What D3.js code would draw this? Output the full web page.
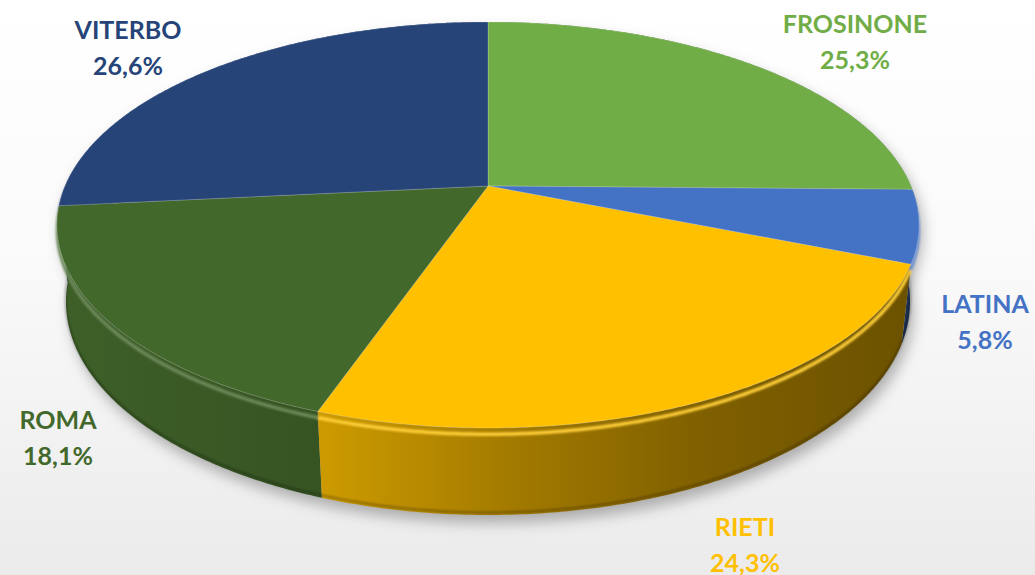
<!DOCTYPE html>
<html><head><meta charset="utf-8">
<script src="https://cdn.jsdelivr.net/npm/d3@7"></script>
<style>html,body{margin:0;padding:0;background:#fff;}svg{display:block;}</style>
</head><body>
<svg id="chart" width="1035" height="575"></svg>
<script>
// ---- data ----
const categories = ["FROSINONE", "LATINA", "RIETI", "ROMA", "VITERBO"];
const values = [25.3, 5.8, 24.3, 18.1, 26.6];
const valueLabels = ["25,3%", "5,8%", "24,3%", "18,1%", "26,6%"];

// ---- style / layout ----
const colors = ["#70AD47", "#4472C4", "#FFC000", "#43682B", "#264478"];
const labelLayout = [ // [centre x, first baseline y]
  [855, 33], [985, 313], [745, 536], [58, 429], [128, 39]
];
const W = 1035, H = 575;
const cx = 488, cy = 186, F = 1953, rho = 0.2166, sinP = 0.4622, cosP = Math.sqrt(1 - sinP * sinP), depthH = 0.0445;

function proj(a, r, y) {
  const X = rho * r * Math.sin(a), Z = -rho * r * Math.cos(a);
  const d = 1 - y * sinP - Z * cosP;
  return [cx + F * X / d, cy - F * (y * cosP - Z * sinP) / d];
}
function arcPts(a0, a1, y, r = 1) {
  const n = Math.max(2, Math.ceil(Math.abs(a1 - a0) / (Math.PI / 360)));
  return d3.range(n + 1).map(i => proj(a0 + (a1 - a0) * i / n, r, y));
}
const line = d3.line();

const svg = d3.select("#chart");
const defs = svg.append("defs");

const bg = defs.append("linearGradient").attr("id", "bg").attr("x1", 0).attr("y1", 0).attr("x2", 0).attr("y2", 1);
bg.append("stop").attr("offset", 0).attr("stop-color", "#ffffff");
bg.append("stop").attr("offset", 0.45).attr("stop-color", "#fafafa");
bg.append("stop").attr("offset", 1).attr("stop-color", "#ebebeb");
svg.append("rect").attr("width", W).attr("height", H).attr("fill", "url(#bg)");

defs.append("filter").attr("id", "shadow").attr("x", "-20%").attr("y", "-20%").attr("width", "140%").attr("height", "140%")
  .append("feGaussianBlur").attr("stdDeviation", 7);
defs.append("filter").attr("id", "soft").attr("x", "-10%").attr("y", "-10%").attr("width", "120%").attr("height", "120%")
  .append("feGaussianBlur").attr("stdDeviation", 1.3);

const pie = d3.pie().sort(null).value(d => d).startAngle(0).endAngle(2 * Math.PI);
const arcs = pie(values);

function shade(c, k) {
  const col = d3.rgb(c);
  return d3.rgb(col.r * k, col.g * k, col.b * k).formatHex();
}
const shadeStops = [[60, 0.92], [325, 0.8], [520, 0.63], [700, 0.5], [918, 0.42]];
colors.forEach((c, i) => {
  const g = defs.append("linearGradient").attr("id", "wall" + i).attr("gradientUnits", "userSpaceOnUse")
    .attr("x1", 60).attr("x2", 918).attr("y1", 0).attr("y2", 0);
  shadeStops.forEach(([x, k]) => g.append("stop").attr("offset", (x - 60) / 858).attr("stop-color", shade(c, k)));
});

// shadow of whole solid
const full = arcPts(0, 2 * Math.PI, 0);
const fullB = arcPts(0, 2 * Math.PI, -depthH);
svg.append("g").attr("filter", "url(#shadow)").attr("transform", "translate(4,8)")
  .selectAll("path").data([full, fullB]).join("path")
  .attr("d", d => line(d) + "Z").attr("fill", "rgba(0,0,0,0.28)");

// walls (back to front)
const walls = arcs.map((a, i) => ({ a, i, key: -Math.cos((a.startAngle + a.endAngle) / 2) }))
  .sort((p, q) => p.key - q.key);
svg.append("g").selectAll("path").data(walls).join("path")
  .attr("d", w => {
    const top = arcPts(w.a.startAngle, w.a.endAngle, 0);
    const bot = arcPts(w.a.endAngle, w.a.startAngle, -depthH);
    return line(top.concat(bot)) + "Z";
  })
  .attr("fill", w => `url(#wall${w.i})`);

// bottom edge darkening
svg.append("g").attr("filter", "url(#soft)").selectAll("path").data(arcs).join("path")
  .attr("d", a => {
    const s = Math.max(a.startAngle, Math.PI / 2 - 0.2), e = Math.min(a.endAngle, 1.5 * Math.PI + 0.2);
    return s < e ? line(arcPts(s, e, -depthH * 0.97)) : null;
  })
  .attr("fill", "none").attr("stroke", "rgba(0,0,0,0.3)").attr("stroke-width", 2);

// rim highlight (bevel)
svg.append("g").attr("filter", "url(#soft)").selectAll("path").data(arcs).join("path")
  .attr("d", a => {
    const s = Math.max(a.startAngle, Math.PI / 2 - 0.25), e = Math.min(a.endAngle, 1.5 * Math.PI + 0.25);
    return s < e ? line(arcPts(s, e, -depthH * 0.07)) : null;
  })
  .attr("fill", "none").attr("stroke", (a, i) => d3.interpolateRgb(colors[i], "#ffffff")(0.22))
  .attr("stroke-width", 3.5);

// top faces
svg.append("g").selectAll("path").data(arcs).join("path")
  .attr("d", a => line([proj(0, 0, 0)].concat(arcPts(a.startAngle, a.endAngle, 0))) + "Z")
  .attr("fill", (a, i) => colors[i])
  .attr("stroke", "rgba(255,255,255,0.25)").attr("stroke-width", 0.8).attr("stroke-linejoin", "round");

// labels
const lg = svg.append("g").attr("font-family", "Lato, 'Open Sans', sans-serif").attr("font-weight", "bold")
  .attr("font-size", 25).attr("text-anchor", "middle");
categories.forEach((name, i) => {
  const [x, y] = labelLayout[i];
  const t = lg.append("text").attr("fill", colors[i]);
  t.append("tspan").attr("x", x).attr("y", y).text(name);
  t.append("tspan").attr("x", x).attr("y", y + 36).text(valueLabels[i]);
});
</script>
</body></html>
